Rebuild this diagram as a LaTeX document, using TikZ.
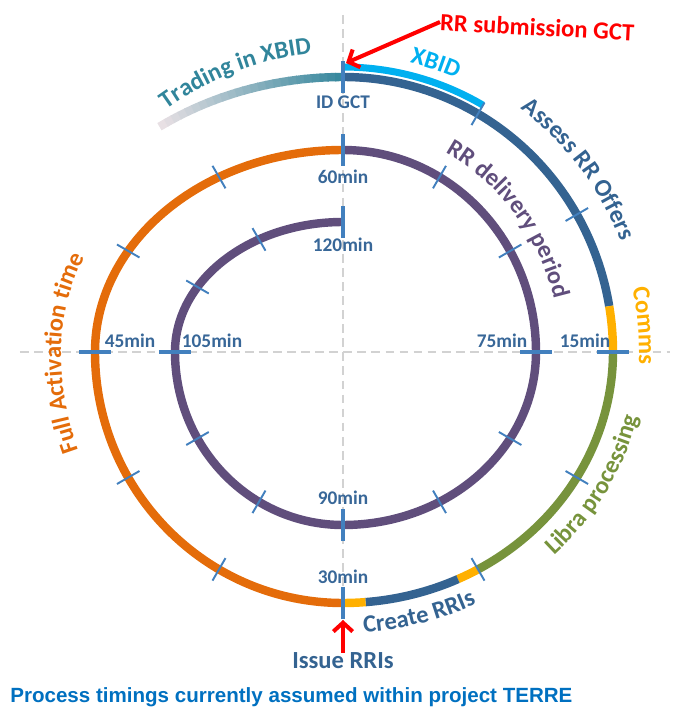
\documentclass[tikz,border=0pt]{standalone}
\usepackage{fontspec}
\setmainfont{Carlito}
\newfontfamily\captionfont{Liberation Sans}
\usetikzlibrary{arrows.meta,decorations.text}
\definecolor{assessblue}{RGB}{52,99,145}
\definecolor{xbidcyan}{RGB}{0,176,240}
\definecolor{tradeteal}{RGB}{49,133,155}
\definecolor{fadegray}{RGB}{232,224,228}
\definecolor{commsamber}{RGB}{255,176,0}
\definecolor{libragreen}{RGB}{119,147,60}
\definecolor{faorange}{RGB}{228,108,10}
\definecolor{rrpurple}{RGB}{96,78,124}
\definecolor{tickblue}{RGB}{66,128,190}
\definecolor{labelblue}{RGB}{56,103,152}
\definecolor{capblue}{RGB}{0,112,192}
\newcommand{\arcfont}{\bfseries\fontsize{14}{16}\selectfont}
\tikzset{
  ring/.style={line width=4.8pt},
  qtick/.style={draw=tickblue, line width=2.8pt},
  mtick/.style={draw=tickblue, line width=1.1pt},
  timelabel/.style={text=labelblue, font=\bfseries\fontsize{11}{13}\selectfont, inner sep=0pt},
  redarrow/.style={draw=red, line width=2.3pt, -{Straight Barb[length=5pt,width=11pt]}},
  arctext/.style={decorate, decoration={text along path, text align=center, text color=#1}}
}
\begin{document}
\begin{tikzpicture}[x=0.2mm,y=0.2mm]
	\useasboundingbox (-343,-359) rectangle (331,352);
	\draw[gray!35, line width=0.8pt, dash pattern=on 5pt off 3pt] (-323,0) -- (327,0);
	\draw[gray!35, line width=0.8pt, dash pattern=on 5pt off 3pt] (0,337) -- (0,-290);
	\foreach \i in {0,...,24}{
		\pgfmathtruncatemacro\p{4*\i}
		\draw[ring, tradeteal!\p!fadegray] ({320*cos(125-1.4*\i)},{275*sin(125-1.4*\i)}) arc[start angle=125-1.4*\i, end angle=125-1.4*\i-1.6, x radius=320, y radius=275];
	}
	\draw[ring, assessblue] (0,275) arc[start angle=90, end angle=9.6, x radius=270, y radius=275] coordinate (t13);
	\draw[ring, commsamber] (t13) arc[start angle=9.6, end angle=0, x radius=270, y radius=275] coordinate (t15);
	\draw[ring, libragreen] (t15) arc[start angle=0, end angle=-60, x radius=270, y radius=251] coordinate (t25);
	\draw[ring, commsamber] (t25) arc[start angle=-60, end angle=-64.8, x radius=270, y radius=251] coordinate (t26);
	\draw[ring, assessblue] (t26) arc[start angle=-64.8, end angle=-85.2, x radius=270, y radius=251] coordinate (t29);
	\draw[ring, commsamber] (t29) arc[start angle=-85.2, end angle=-90, x radius=270, y radius=251] coordinate (t30);
	\draw[ring, faorange] (t30) arc[start angle=-90, end angle=-180, x radius=248, y radius=251] arc[start angle=180, end angle=90, x radius=248, y radius=202] coordinate (t60);
	\draw[ring, rrpurple] (t60) arc[start angle=90, end angle=0, x radius=193, y radius=202] arc[start angle=0, end angle=-90, x radius=193, y radius=173] arc[start angle=-90, end angle=-180, x radius=168, y radius=173] arc[start angle=180, end angle=90, x radius=168, y radius=130];
	\draw[line width=4pt, xbidcyan] (0,285) arc[start angle=90, end angle=60, x radius=280, y radius=285];
	\foreach \x/\y/\dx/\dy in {0/275/0/16, 270/0/16/0, 0/-251/0/16, -248/0/16/0, 0/202/0/16, 193/0/16/0, 0/-173/0/16, -168/0/16/0, 0/130/0/16}
		\draw[qtick] (\x-\dx,\y-\dy) -- (\x+\dx,\y+\dy);
	\foreach \t/\a/\b in {5/270/275, 10/270/275, 20/270/251, 25/270/251, 35/248/251, 40/248/251, 50/248/202, 55/248/202, 65/193/202, 70/193/202, 80/193/173, 85/193/173, 95/168/173, 100/168/173, 110/168/130, 115/168/130}
		\draw[mtick] ({(\a-13)*cos(90-6*\t)},{(\b-13)*sin(90-6*\t)}) -- ({(\a+13)*cos(90-6*\t)},{(\b+13)*sin(90-6*\t)});
	\path[arctext=tradeteal, decoration={text={|\arcfont|Trading in XBID}}] ({300*cos(145)},{300*sin(145)}) arc[start angle=145, end angle=77, radius=300];
	\path[arctext=xbidcyan, decoration={text={|\arcfont|XBID}}] ({292*cos(100)},{297*sin(100)}) arc[start angle=100, end angle=44, x radius=292, y radius=297];
	\path[arctext=assessblue, decoration={text={|\arcfont|Assess RR Offers}}] ({298*cos(75)},{303*sin(75)}) arc[start angle=75, end angle=0, x radius=298, y radius=303];
	\path[arctext=commsamber, decoration={text={|\arcfont|Comms}}] ({296*cos(40)},{301*sin(40)}) arc[start angle=40, end angle=-30, x radius=296, y radius=301];
	\path[arctext=libragreen, decoration={text={|\arcfont|Libra processing}}] ({303*cos(-70)},{284*sin(-70)}) arc[start angle=-70, end angle=12, x radius=303, y radius=284];
	\path[arctext=assessblue, decoration={text={|\arcfont|Create RRIs}}] ({300*cos(-112)},{281*sin(-112)}) arc[start angle=-112, end angle=-37, x radius=300, y radius=281];
	\path[arctext=faorange, decoration={text={|\arcfont|Full Activation time}}] ({282*cos(-140)},{285*sin(-140)}) arc[start angle=-140, end angle=-180, x radius=282, y radius=285] arc[start angle=180, end angle=134, x radius=282, y radius=236];
	\path[arctext=rrpurple, decoration={text={|\arcfont|RR delivery period}}] ({217*cos(80)},{226*sin(80)}) arc[start angle=80, end angle=-4, x radius=217, y radius=226];
	\node[timelabel] (gct) at (0,250) {ID GCT};
	\node[timelabel] (m60) at (0,175) {60min};
	\node[timelabel] (m120) at (0,107) {120min};
	\node[timelabel] (m90) at (0,-146) {90min};
	\node[timelabel] (m30) at (0,-225) {30min};
	\node[timelabel] (m45) at (-213,11) {45min};
	\node[timelabel] (m105) at (-131,11) {105min};
	\node[timelabel] (m75) at (159,11) {75min};
	\node[timelabel] (m15) at (242,11) {15min};
	\node[text=red, font=\arcfont, rotate=-3, anchor=west, inner sep=0pt] (subtext) at (97,330) {RR submission GCT};
	\coordinate (subtip) at (3,289);
	\draw[redarrow] (subtext.west) -- (subtip);
	\node[text=assessblue, font=\arcfont, inner sep=0pt] (issue) at (0,-309) {Issue RRIs};
	\coordinate (issuetip) at (0,-268);
	\draw[redarrow] (issue.north) -- (issuetip);
	\node[anchor=west, inner sep=0pt, text=capblue, font=\captionfont\bfseries\fontsize{11.7}{14}\selectfont] (caption) at (-333,-345) {Process timings currently assumed within project TERRE};
\end{tikzpicture}
\end{document}
